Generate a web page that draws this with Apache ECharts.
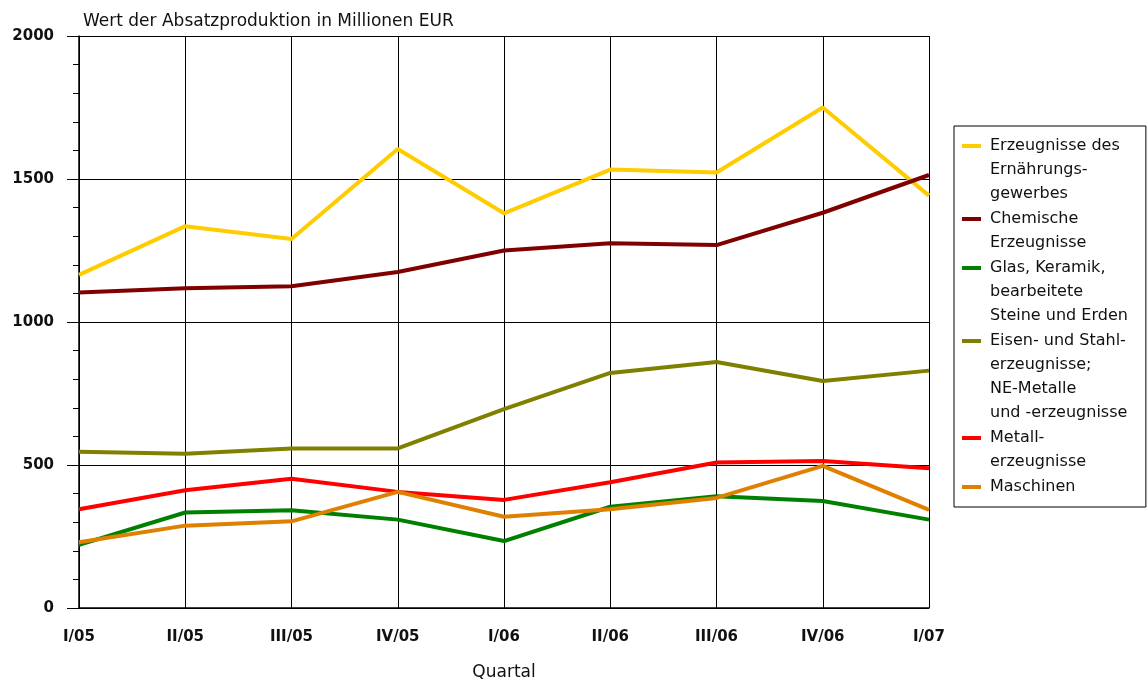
<!DOCTYPE html>
<html>
<head>
<meta charset="utf-8">
<script src="https://cdn.jsdelivr.net/npm/echarts@6/dist/echarts.min.js"></script>
<style>html,body{margin:0;padding:0;background:#fff;}#c{width:1147px;height:686px;}</style>
</head>
<body>
<div id="c"></div>
<script>
const categories = ['I/05','II/05','III/05','IV/05','I/06','II/06','III/06','IV/06','I/07'];
const seriesNames = [
  'Erzeugnisse des\nErnährungs-\ngewerbes',
  'Chemische\nErzeugnisse',
  'Glas, Keramik,\nbearbeitete\nSteine und Erden',
  'Eisen- und Stahl-\nerzeugnisse;\nNE-Metalle\nund -erzeugnisse',
  'Metall-\nerzeugnisse',
  'Maschinen'
];
const ernaehrung = [1165, 1335, 1290, 1605, 1380, 1533, 1523, 1750, 1442];
const chemie     = [1103, 1118, 1125, 1175, 1250, 1275, 1269, 1382, 1514];
const glas       = [221, 334, 342, 309, 234, 354, 391, 374, 309];
const eisen      = [546, 539, 558, 558, 695, 822, 860, 794, 830];
const metall     = [345, 412, 452, 406, 378, 440, 509, 514, 489];
const maschinen  = [230, 288, 303, 406, 319, 345, 385, 497, 343];
const yTicks = [0, 500, 1000, 1500, 2000];

const colors = ['#FFCC00', '#800000', '#008000', '#808000', '#FF0000', '#E08000'];
const values = [ernaehrung, chemie, glas, eisen, metall, maschinen];
const FONT = "'DejaVu Sans', sans-serif";

const rich = {
  t: { fontSize: 16, lineHeight: 24, color: '#111', fontFamily: FONT },
  s: { width: 28, height: 4 },
  g: { width: 9, height: 4 }
};
colors.forEach((c, i) => { rich['i' + i] = { width: 19, height: 4, backgroundColor: c }; });

const chart = echarts.init(document.getElementById('c'));
chart.setOption({
  animation: false,
  backgroundColor: '#fff',
  title: {
    text: 'Wert der Absatzproduktion in Millionen EUR',
    left: 78, top: 8,
    textStyle: { fontSize: 17, fontWeight: 'normal', color: '#111', fontFamily: FONT }
  },
  grid: { left: 79, right: 218, top: 36, bottom: 69 },
  legend: {
    orient: 'vertical',
    left: 954, top: 126,
    padding: [8, 18, 8, 3],
    itemGap: 1,
    itemWidth: 0,
    itemHeight: 24,
    icon: 'none',
    borderColor: '#000',
    borderWidth: 1,
    data: seriesNames,
    formatter: function (name) {
      const idx = seriesNames.indexOf(name);
      return name.split('\n').map((l, i) => (i === 0 ? '{i' + idx + '|}{g|}' : '{s|}') + '{t|' + l + '}').join('\n');
    },
    textStyle: { rich: rich, fontFamily: FONT, lineHeight: 24 }
  },
  xAxis: {
    type: 'category',
    data: categories,
    boundaryGap: false,
    axisLine: { lineStyle: { color: '#000', width: 1.5 } },
    axisTick: { show: false },
    splitLine: { show: true, lineStyle: { color: '#000', width: 1 } },
    axisLabel: { color: '#111', fontSize: 15, fontWeight: 'bold', margin: 22, fontFamily: FONT },
    name: 'Quartal',
    nameLocation: 'middle',
    nameGap: 56,
    nameTextStyle: { color: '#111', fontSize: 17, fontFamily: FONT }
  },
  yAxis: {
    type: 'value',
    min: yTicks[0], max: yTicks[yTicks.length - 1], interval: 500,
    axisLine: { show: true, lineStyle: { color: '#000', width: 1.5 } },
    axisTick: { show: true, length: 12, lineStyle: { color: '#000', width: 1 } },
    minorTick: { show: true, splitNumber: 5, length: 6, lineStyle: { color: '#000', width: 1 } },
    splitLine: { show: true, lineStyle: { color: '#000', width: 1 } },
    axisLabel: { color: '#111', fontSize: 15, fontWeight: 'bold', margin: 25, fontFamily: FONT,
      formatter: function (v) { return String(v); } }
  },
  series: values.map((v, i) => ({
    name: seriesNames[i],
    type: 'line',
    data: v,
    showSymbol: false,
    symbol: 'none',
    lineStyle: { color: colors[i], width: 4 },
    itemStyle: { color: colors[i] }
  }))
});
</script>
</body>
</html>
